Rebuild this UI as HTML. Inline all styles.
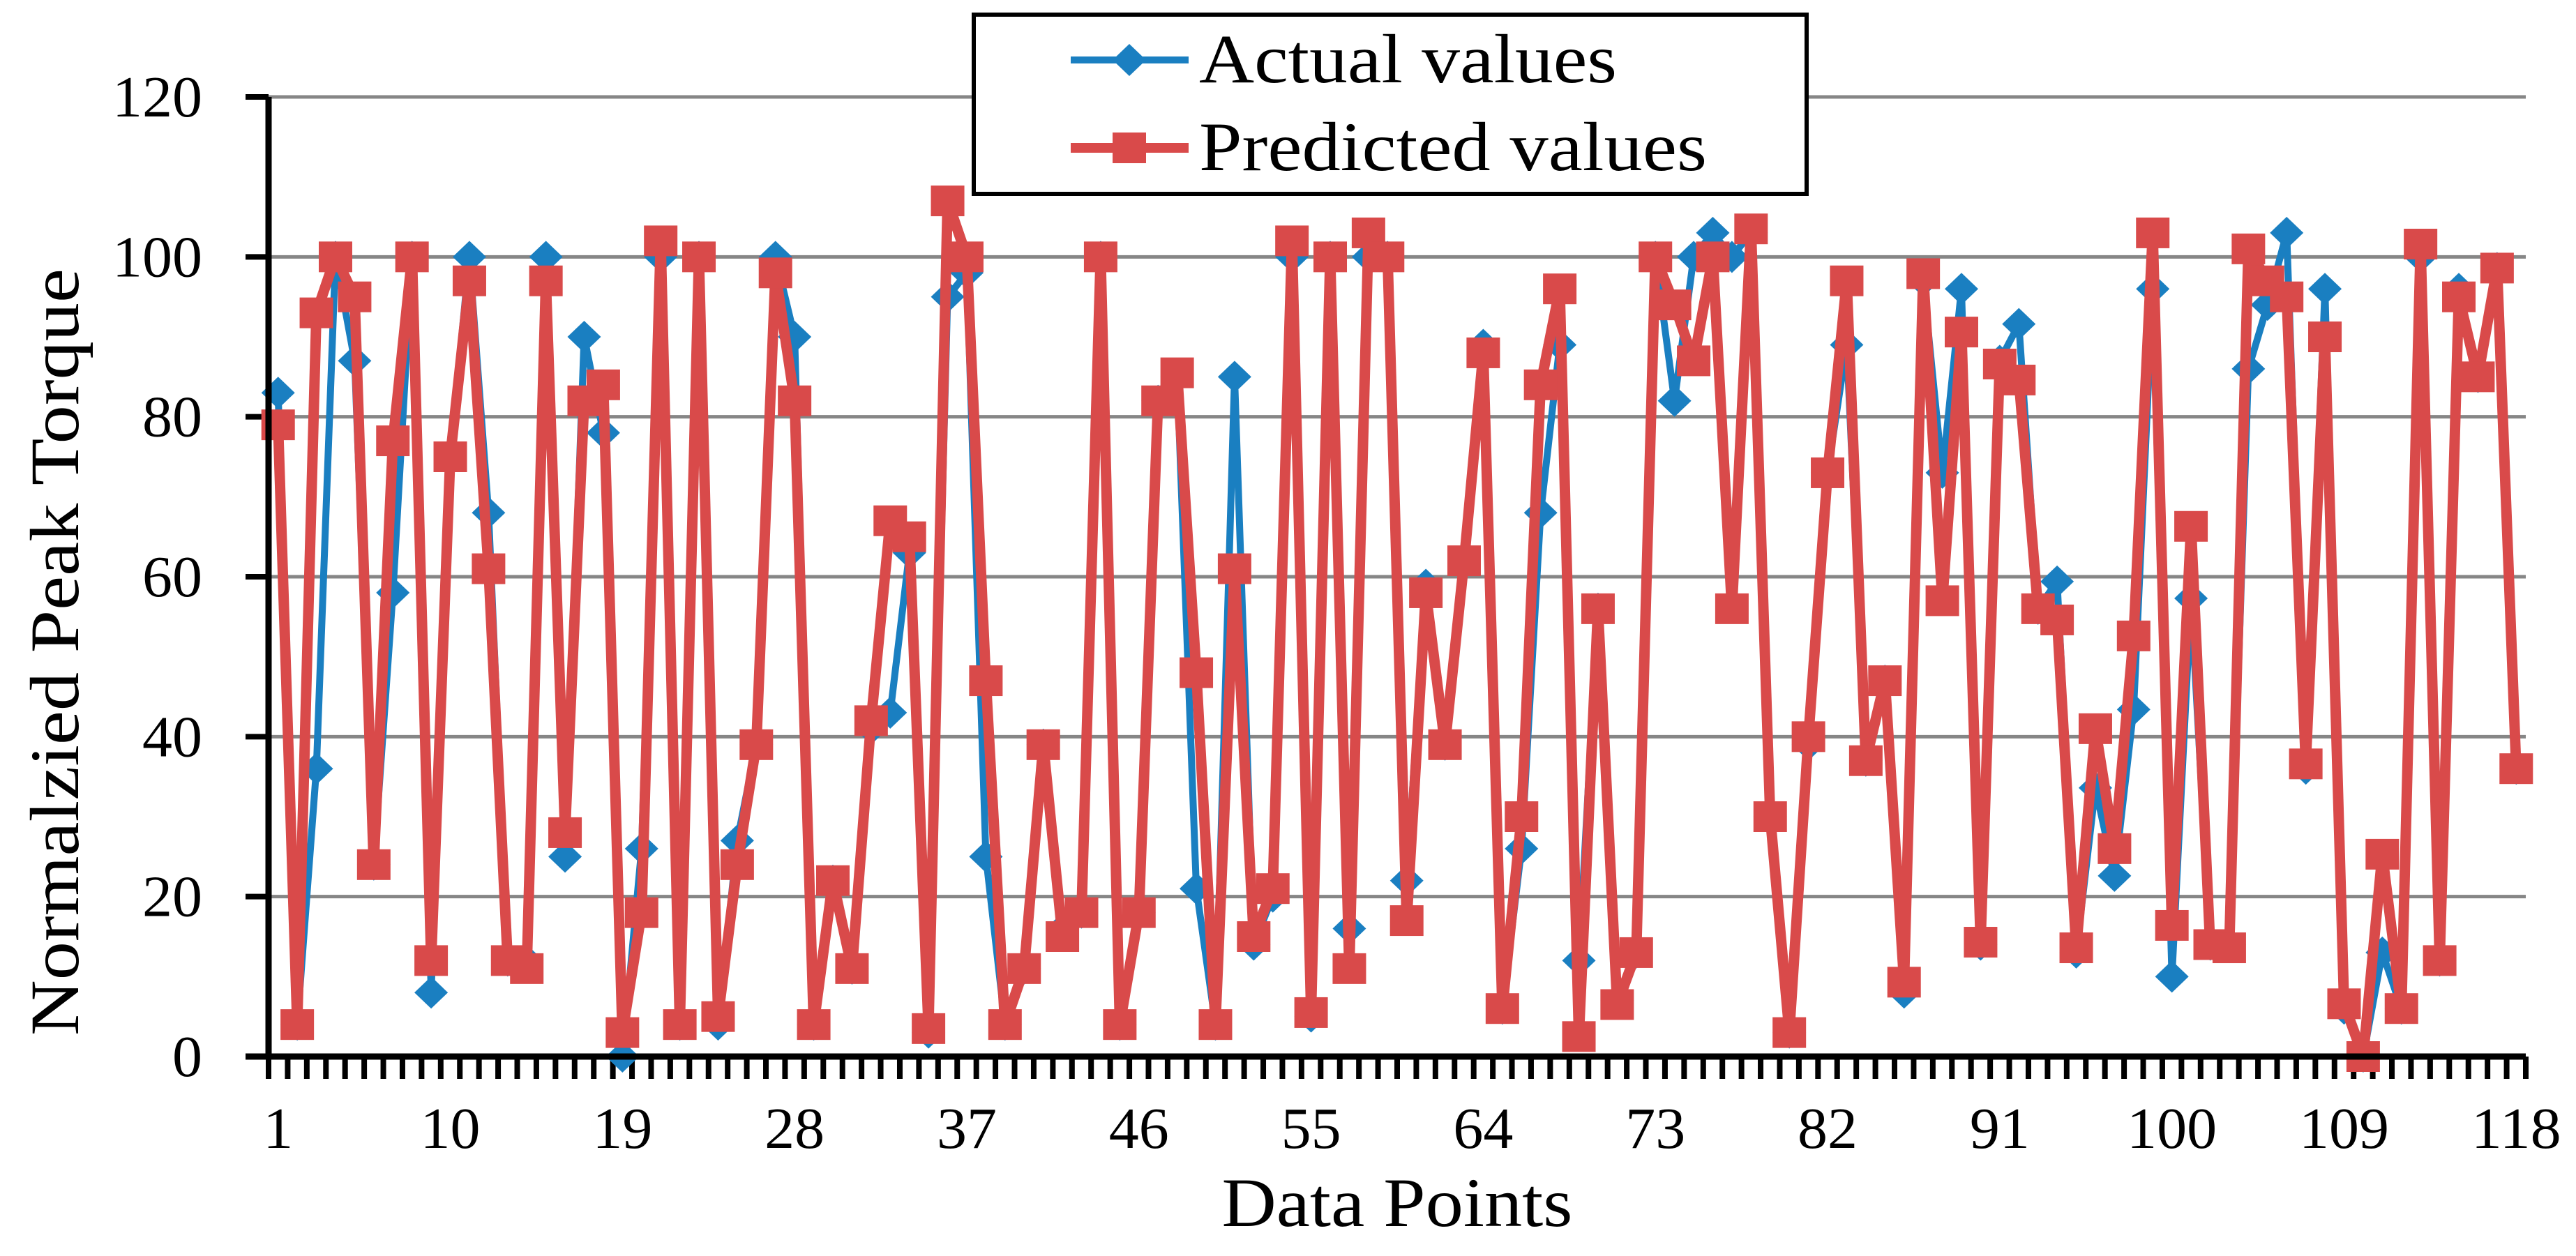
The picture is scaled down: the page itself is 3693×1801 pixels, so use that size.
<!DOCTYPE html>
<html><head><meta charset="utf-8"><style>
html,body{margin:0;padding:0;background:#fff;}
svg{display:block;}
text{font-family:"Liberation Serif",serif;fill:#000;}
</style></head><body>
<svg id="chart" width="3693" height="1801" viewBox="0 0 3693 1801" xmlns="http://www.w3.org/2000/svg">
<g id="grid"></g>
<g id="yticks"></g>
<g id="xticks"></g>
<g id="series"></g>
<line x1="385" y1="139" x2="385" y2="1519" stroke="#000" stroke-width="9"/>
<line x1="352" y1="1515" x2="3621" y2="1515" stroke="#000" stroke-width="9"/>
<text transform="translate(112,935) rotate(-90)" text-anchor="middle" font-size="100" textLength="1100" lengthAdjust="spacingAndGlyphs">Normalzied Peak Torque</text>
<text x="2003" y="1758" text-anchor="middle" font-size="100" textLength="503" lengthAdjust="spacingAndGlyphs">Data Points</text>
<g>
<rect x="1396" y="21" width="1194" height="257" fill="#fff" stroke="#000" stroke-width="6"/>
<g>
<line x1="1535" y1="86" x2="1704" y2="86" stroke="#1a7fc1" stroke-width="10"/>
<polygon points="1619,63 1643,86 1619,109 1595,86" fill="#1a7fc1"/>
<text x="1719" y="118" font-size="100" textLength="599" lengthAdjust="spacingAndGlyphs">Actual values</text>
</g>
<g>
<line x1="1535" y1="212" x2="1704" y2="212" stroke="#d94a4a" stroke-width="14"/>
<rect x="1595" y="190" width="48" height="44" fill="#d94a4a"/>
<text x="1719" y="244" font-size="100" textLength="728" lengthAdjust="spacingAndGlyphs">Predicted values</text>
</g>
</g>
</svg>
<script>
const yTicks = [0, 20, 40, 60, 80, 100, 120];
const xTickLabels = [1, 10, 19, 28, 37, 46, 55, 64, 73, 82, 91, 100, 109, 118];
const actualValues = [83,4,36,100,87,24,58,100,8,75,100,68,12,12,100,25,90,78,0,26,
100,4,100,4,27,39,100,90,4,22,11,41,43,63,3,95,98,25,4,11,
39,16,18,100,4,18,82,85,21,4,85,14,20,100,5,100,16,100,100,22,
59,39,62,89,6,26,68,89,12,56,7,13,100,82,100,103,100,103,30,3,
39,73,89,37,47,8,97,73,96,14,87,91.6,56,59.4,13,33.6,22.6,43.4,96,10,
57.3,14,14,86,94,103,36,96,6,0,13,6,100,12,96,85,98.6,36];
const predictedValues = [79,4,93,100,95,24,77,100,12,75,97,61,12,11,97,28,82,84,3,18,
102,4,100,5,24,39,98,82,4,22,11,42,67,65,3.5,107,100,47,4,11,
39,15,18,100,4,18,82,85.5,48,4,61,15,21,102,5.5,100,11,103,100,17,
58,39,62,88,6,30,84,96,2.5,56,6.5,13,100,94,87,100,56,103.5,30,3,
40,73,97,37,47,9.3,97.9,57,90.6,14.3,86.6,84.6,56,54.6,13.6,41,26,52.6,103,16.4,
66.3,14,13.6,101,97,95,36.6,90,6.6,0,25.3,6,101.6,12,95,85,98.6,36];

const NS = 'http://www.w3.org/2000/svg';
const X0 = 385, X1 = 3621, Y0 = 1515, YT = 139, N = actualValues.length;
const step = (X1 - X0) / N;
function xPos(i) { return X0 + (i + 0.5) * step; }
function yPos(v) { return Y0 - (v / 120) * (Y0 - YT); }
function mk(tag, attrs, parent) {
  const e = document.createElementNS(NS, tag);
  for (const k in attrs) e.setAttribute(k, attrs[k]);
  parent.appendChild(e);
  return e;
}
const grid = document.getElementById('grid');
const yt = document.getElementById('yticks');
yTicks.forEach(v => {
  if (v > 0) {
    const g = mk('line', {x1: X0, x2: X1, y1: yPos(v), y2: yPos(v), stroke: '#868686', 'stroke-width': 5}, grid);
    
    
  }
  const t = mk('line', {x1: 352, x2: X0, y1: yPos(v), y2: yPos(v), stroke: '#000', 'stroke-width': 8}, yt);
  
  
  const s = String(v);
  const l = mk('text', {x: 290, y: yPos(v) + 28, 'text-anchor': 'end', 'font-size': 84, textLength: s.length * 43, lengthAdjust: 'spacingAndGlyphs'}, yt);
  l.textContent = s;
  
  
});
const xt = document.getElementById('xticks');
for (let i = 0; i <= N; i++) {
  const x = X0 + i * step;
  const t = mk('line', {x1: x, x2: x, y1: Y0, y2: 1547, stroke: '#000', 'stroke-width': 8}, xt);
  
  
}
xTickLabels.forEach(c => {
  const s = String(c);
  const l = mk('text', {x: xPos(c - 1), y: 1646, 'text-anchor': 'middle', 'font-size': 84, textLength: s.length * 43, lengthAdjust: 'spacingAndGlyphs'}, xt);
  l.textContent = s;
  
  
});
const ser = document.getElementById('series');
function drawLine(vals, color, w, name) {
  const pts = vals.map((v, i) => xPos(i).toFixed(1) + ',' + yPos(v).toFixed(1)).join(' ');
  const p = mk('polyline', {points: pts, fill: 'none', stroke: color, 'stroke-width': w, 'stroke-linejoin': 'miter', 'stroke-miterlimit': 3}, ser);
  
  
}
drawLine(actualValues, '#1a7fc1', 10, 'actual-values-line');
actualValues.forEach((v, i) => {
  const x = xPos(i), y = yPos(v);
  const d = mk('polygon', {points: `${x},${y-23} ${x+24},${y} ${x},${y+23} ${x-24},${y}`, fill: '#1a7fc1'}, ser);
  
  
});
drawLine(predictedValues, '#d94a4a', 15, 'predicted-values-line');
predictedValues.forEach((v, i) => {
  const x = xPos(i), y = yPos(v);
  const r = mk('rect', {x: x - 24, y: y - 22, width: 48, height: 44, fill: '#d94a4a'}, ser);
  
  
});
</script>
</body></html>
